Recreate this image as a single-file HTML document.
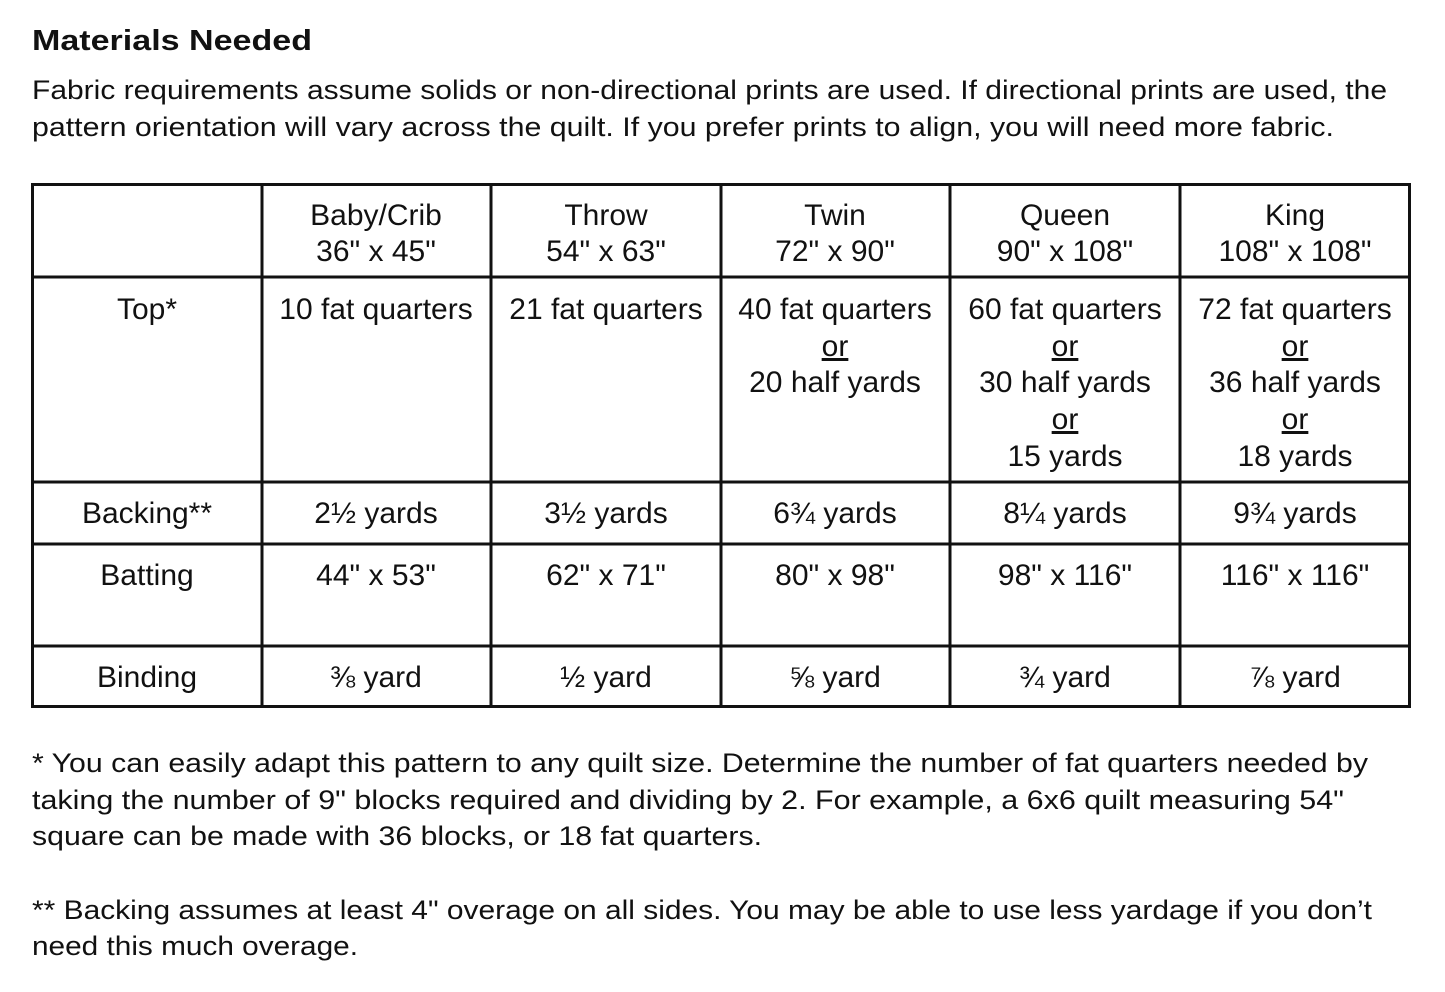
<!DOCTYPE html>
<html><head><meta charset="utf-8"><style>
html,body{margin:0;padding:0;background:#fff;}
svg{display:block;}
text{font-family:"Liberation Sans",sans-serif;fill:#111;}
</style></head><body>
<svg width="1445" height="992" viewBox="0 0 1445 992" xmlns="http://www.w3.org/2000/svg">
<text x="32" y="50" font-size="29" font-weight="bold" textLength="280" lengthAdjust="spacingAndGlyphs">Materials Needed</text>
<text x="32" y="99" font-size="27" textLength="1355" lengthAdjust="spacingAndGlyphs">Fabric requirements assume solids or non-directional prints are used. If directional prints are used, the</text>
<text x="32" y="136" font-size="27" textLength="1302" lengthAdjust="spacingAndGlyphs">pattern orientation will vary across the quilt. If you prefer prints to align, you will need more fabric.</text>
<g stroke="#111" stroke-width="3" fill="none">
<rect x="32.5" y="184.5" width="1377" height="522"/>
<line x1="262" y1="184" x2="262" y2="707"/>
<line x1="491" y1="184" x2="491" y2="707"/>
<line x1="721" y1="184" x2="721" y2="707"/>
<line x1="950" y1="184" x2="950" y2="707"/>
<line x1="1180" y1="184" x2="1180" y2="707"/>
<line x1="32" y1="277" x2="1410" y2="277"/>
<line x1="32" y1="482" x2="1410" y2="482"/>
<line x1="32" y1="544" x2="1410" y2="544"/>
<line x1="32" y1="646" x2="1410" y2="646"/>
</g>
<g font-size="30" text-anchor="middle">
<text x="376" y="225">Baby/Crib</text><text x="376" y="261">36" x 45"</text>
<text x="606" y="225">Throw</text><text x="606" y="261">54" x 63"</text>
<text x="835" y="225">Twin</text><text x="835" y="261">72" x 90"</text>
<text x="1065" y="225">Queen</text><text x="1065" y="261">90" x 108"</text>
<text x="1295" y="225">King</text><text x="1295" y="261">108" x 108"</text>

<text x="147" y="319">Top*</text>
<text x="376" y="319">10 fat quarters</text>
<text x="606" y="319">21 fat quarters</text>
<text x="835" y="319">40 fat quarters</text>
<text x="835" y="356" text-decoration="underline">or</text>
<text x="835" y="392">20 half yards</text>
<text x="1065" y="319">60 fat quarters</text>
<text x="1065" y="356" text-decoration="underline">or</text>
<text x="1065" y="392">30 half yards</text>
<text x="1065" y="429" text-decoration="underline">or</text>
<text x="1065" y="466">15 yards</text>
<text x="1295" y="319">72 fat quarters</text>
<text x="1295" y="356" text-decoration="underline">or</text>
<text x="1295" y="392">36 half yards</text>
<text x="1295" y="429" text-decoration="underline">or</text>
<text x="1295" y="466">18 yards</text>

<text x="147" y="523">Backing**</text>
<text x="376" y="523">2½ yards</text>
<text x="606" y="523">3½ yards</text>
<text x="835" y="523">6¾ yards</text>
<text x="1065" y="523">8¼ yards</text>
<text x="1295" y="523">9¾ yards</text>

<text x="147" y="585">Batting</text>
<text x="376" y="585">44" x 53"</text>
<text x="606" y="585">62" x 71"</text>
<text x="835" y="585">80" x 98"</text>
<text x="1065" y="585">98" x 116"</text>
<text x="1295" y="585">116" x 116"</text>

<text x="147" y="687">Binding</text>
<text x="376" y="687">⅜ yard</text>
<text x="606" y="687">½ yard</text>
<text x="835" y="687">⅝ yard</text>
<text x="1065" y="687">¾ yard</text>
<text x="1295" y="687">⅞ yard</text>
</g>
<g font-size="27">
<text x="32" y="772" textLength="1336" lengthAdjust="spacingAndGlyphs">* You can easily adapt this pattern to any quilt size. Determine the number of fat quarters needed by</text>
<text x="32" y="809" textLength="1312" lengthAdjust="spacingAndGlyphs">taking the number of 9" blocks required and dividing by 2. For example, a 6x6 quilt measuring 54"</text>
<text x="32" y="845" textLength="730" lengthAdjust="spacingAndGlyphs">square can be made with 36 blocks, or 18 fat quarters.</text>
<text x="32" y="919" textLength="1340" lengthAdjust="spacingAndGlyphs">** Backing assumes at least 4" overage on all sides. You may be able to use less yardage if you don’t</text>
<text x="32" y="955" textLength="326" lengthAdjust="spacingAndGlyphs">need this much overage.</text>
</g>
</svg>
</body></html>
